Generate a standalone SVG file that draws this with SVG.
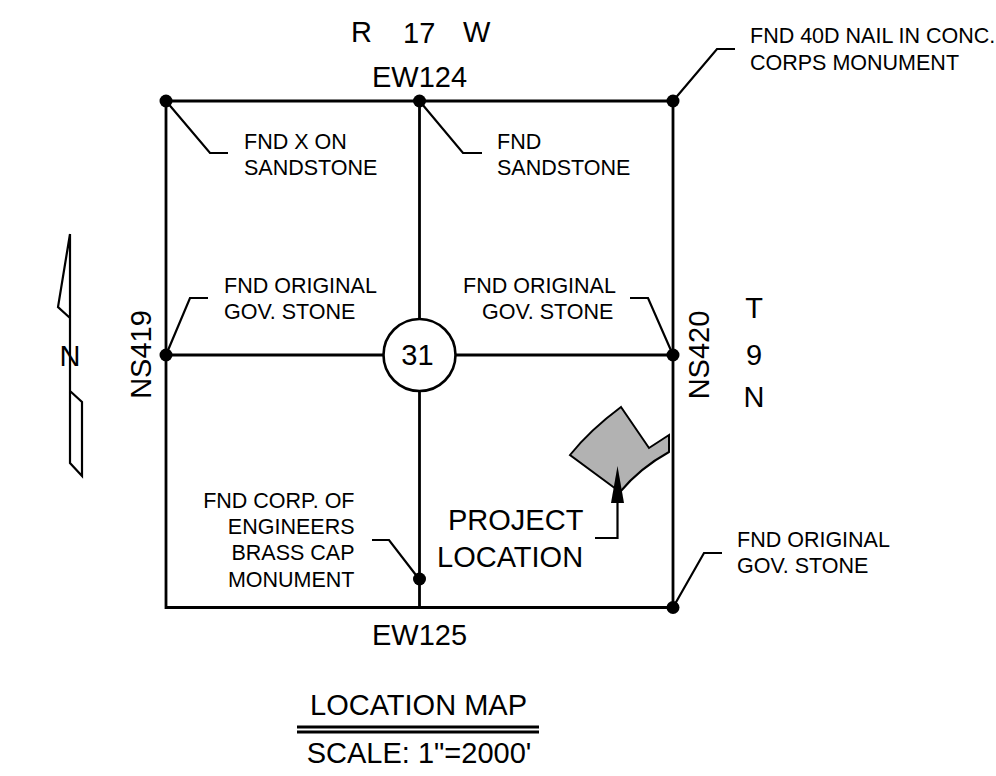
<svg xmlns="http://www.w3.org/2000/svg" width="996" height="776" viewBox="0 0 996 776">
<style>
text{font-family:"Liberation Sans",Arial,sans-serif;fill:#000}
.s{font-size:21.500px}.m{font-size:29px}
.e{text-anchor:end}.c{text-anchor:middle}
.ln{fill:none;stroke:#000;stroke-width:2.800}
.ld{fill:none;stroke:#000;stroke-width:2.200}
.d{fill:#000}
</style>
<rect width="996" height="776" fill="#fff"/>
<g id="connectors">
<path class="ln" d="M166 101H673V607.500H166ZM419.500 101V319M419.500 391V607.500M166 355H383M455 355H673"/>
<path class="ld" d="M166 101L210 153H228M419.500 101L463 153H482M166 355L190 298H208M673 355L648 298H630M419 579L389 540H372M673 607.500L704 553H722M673 101L717 49H735"/>
</g>
<g id="corners">
<circle class="d" cx="166" cy="101" r="6.500"/><circle class="d" cx="419.500" cy="101" r="6.500"/><circle class="d" cx="673" cy="101" r="6.500"/>
<circle class="d" cx="166" cy="355" r="6.500"/><circle class="d" cx="673" cy="355" r="6.500"/>
<circle class="d" cx="419.500" cy="579" r="6.500"/><circle class="d" cx="673" cy="607.500" r="6.500"/>
</g>
<g id="section-31"><circle cx="419.500" cy="355" r="36" fill="#fff" stroke="#000" stroke-width="2.600"/><text class="m c" x="417.500" y="365">31</text></g>
<g id="north-arrow">
<path class="ld" d="M70 234L58 307L70 318M70 234V463L82 476V402L70 391"/>
<text class="m c" x="70" y="366">N</text>
</g>
<g id="project">
<path d="M621 407L649 448L669 435V452Q640 468 620 492L570 455Q590 430 621 407Z" fill="#b2b2b2" stroke="#000" stroke-width="2"/>
<path class="ld" d="M595 538H617.500V500"/>
<path class="d" d="M617.500 466L624 503H611Z"/>
<text class="m" x="448" y="530">PROJECT</text>
<text class="m" x="437" y="567">LOCATION</text>
</g>
<g id="labels">
<text class="m" x="351" y="42">R</text>
<text class="m" x="403" y="43">17</text>
<text class="m" x="463" y="42">W</text>
<text class="m c" x="419.500" y="87">EW124</text>
<text class="m c" x="419.500" y="645">EW125</text>
<text class="m c" transform="translate(151 354.500) rotate(-90)">NS419</text>
<text class="m c" transform="translate(709 355) rotate(-90)">NS420</text>
<text class="m c" x="754" y="318">T</text>
<text class="m c" x="754" y="365">9</text>
<text class="m c" x="754" y="407">N</text>
<text class="s" x="750" y="43">FND 40D NAIL IN CONC.</text>
<text class="s" x="750" y="70">CORPS MONUMENT</text>
<text class="s" x="244" y="149">FND X ON</text>
<text class="s" x="244" y="175">SANDSTONE</text>
<text class="s" x="497" y="149">FND</text>
<text class="s" x="497" y="175">SANDSTONE</text>
<text class="s" x="224" y="293">FND ORIGINAL</text>
<text class="s" x="224" y="319">GOV. STONE</text>
<text class="s" x="463" y="293">FND ORIGINAL</text>
<text class="s" x="482" y="319">GOV. STONE</text>
<text class="s e" x="354.500" y="508">FND CORP. OF</text>
<text class="s e" x="354.500" y="534">ENGINEERS</text>
<text class="s e" x="354.500" y="560">BRASS CAP</text>
<text class="s e" x="354.500" y="587">MONUMENT</text>
<text class="s" x="737" y="547">FND ORIGINAL</text>
<text class="s" x="737" y="573">GOV. STONE</text>
<text class="m c" x="418.500" y="715">LOCATION MAP</text>
<path class="ln" d="M297 727H539M297 732H539"/>
<text class="m c" x="419" y="763">SCALE: 1"=2000'</text>
</g>
</svg>
